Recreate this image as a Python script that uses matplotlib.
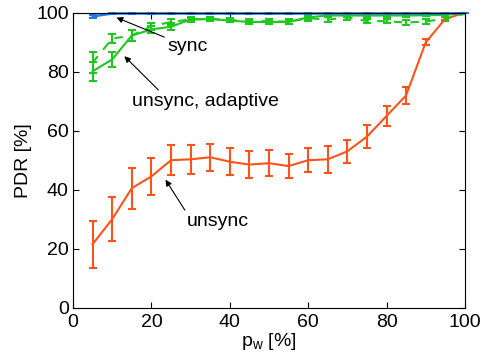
import numpy as np
import matplotlib.pyplot as plt

plt.rcParams['font.family'] = ['Liberation Sans', 'DejaVu Sans']

# data
pw = np.arange(5, 101, 5)
unsync = [21.5, 30.0, 40.5, 44.5, 50.0, 50.3, 51.0, 49.5, 48.5, 49.0,
          48.0, 50.0, 50.3, 53.0, 58.0, 65.0, 72.0, 90.0, 98.0, 100.0]
unsync_err = [8.0, 7.5, 7.0, 6.2, 5.0, 5.0, 4.5, 4.5, 4.5, 4.5,
              4.0, 4.0, 4.5, 4.0, 4.0, 3.5, 3.0, 1.0, 0.5, 0.0]
adapt = [80.2, 84.2, 92.3, 94.4, 95.3, 97.8, 97.9, 97.4, 96.9, 96.9,
         96.9, 98.5, 99.1, 99.1, 99.1, 99.1, 99.1, 99.2, 99.3, 100.0]
adapt_err = [3.2, 2.6, 1.8, 1.3, 1.2, 0.6, 0.6, 0.6, 0.6, 0.6,
             0.6, 0.5, 0.4, 0.4, 0.4, 0.4, 0.4, 0.4, 0.3, 0.0]
adapt2 = [83.1, 91.3, 92.3, 95.5, 96.9, 97.8, 97.9, 97.6, 97.2, 97.2,
          97.0, 98.2, 97.7, 98.5, 97.2, 97.2, 96.7, 97.1, 98.0, 99.7]
adapt2_err = [3.6, 1.4, 1.8, 1.2, 1.0, 0.8, 0.8, 0.8, 0.8, 0.8,
              0.8, 0.8, 0.8, 0.8, 0.8, 0.8, 0.8, 0.8, 0.8, 0.2]
sync = [98.8, 99.8, 99.8, 99.8, 99.8, 99.8, 99.8, 99.8, 99.8, 99.8,
        99.8, 99.8, 99.8, 99.8, 99.8, 99.8, 99.8, 99.8, 99.8, 99.9]
sync_err = [0.6, 0.2, 0.2, 0.2, 0.2, 0.2, 0.2, 0.2, 0.2, 0.2,
            0.2, 0.2, 0.2, 0.2, 0.2, 0.2, 0.2, 0.2, 0.2, 0.1]

orange = '#ff5319'
green = '#1ec81e'
blue = '#1e78e6'

fig = plt.figure(figsize=(4.82, 3.58), dpi=100, facecolor='white')
ax = fig.add_axes([0.1515, 0.141, 0.813, 0.823])

ax.errorbar(pw, unsync, yerr=unsync_err, color=orange, lw=1.5,
            capsize=3, elinewidth=1.5, capthick=1.5)
ax.errorbar(pw, adapt2, yerr=adapt2_err, color=green, lw=1.5, ls=(0, (4, 4)),
            capsize=3, elinewidth=1.5, capthick=1.5)
ax.errorbar(pw, adapt, yerr=adapt_err, color=green, lw=1.5,
            capsize=3, elinewidth=1.5, capthick=1.5)
ax.errorbar(pw, sync, yerr=sync_err, color=blue, lw=1.8,
            capsize=3, elinewidth=1.5, capthick=1.5, clip_on=False)

arrow = dict(arrowstyle='-|>', color='black', lw=0.8, mutation_scale=9,
             shrinkA=0, shrinkB=0)
ax.annotate('sync', xy=(11.1, 98.4), xytext=(24.0, 88.6),
            fontsize=14, va='center', ha='left', arrowprops=arrow)
ax.annotate('unsync, adaptive', xy=(13.1, 85.3), xytext=(15.0, 70.0),
            fontsize=14, va='center', ha='left',
            arrowprops=dict(arrow, relpos=(0.2, 1.0)))
ax.annotate('unsync', xy=(23.6, 43.4), xytext=(29.0, 29.2),
            fontsize=14, va='center', ha='left',
            arrowprops=dict(arrow, relpos=(0.0, 1.0)))

ax.set_xlim(0, 100)
ax.set_ylim(0, 100)
ax.set_xticks(range(0, 101, 20))
ax.set_yticks(range(0, 101, 20))
ax.tick_params(direction='in', top=True, right=True, labelsize=14, length=4)
ax.tick_params(axis='x', pad=5)
ax.tick_params(axis='y', pad=3)
ax.set_xlabel('p$_\\mathregular{w}$ [%]', fontsize=14, labelpad=0)
ax.set_ylabel('PDR [%]', fontsize=14, labelpad=3)

fig.savefig('out.png', dpi=100)
